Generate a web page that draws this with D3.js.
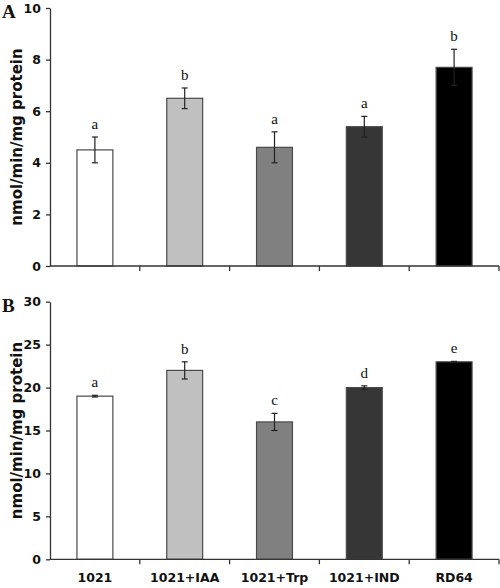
<!DOCTYPE html>
<html><head><meta charset="utf-8">
<script src="https://cdn.jsdelivr.net/npm/d3@7"></script>
<style>body{margin:0;background:#fff}svg{display:block}</style>
</head><body>
<svg id="c" width="500" height="588"></svg>
<script>
const categories = ["1021", "1021+IAA", "1021+Trp", "1021+IND", "RD64"];
const fills = ["#ffffff", "#c0c0c0", "#808080", "#363636", "#000000"];
const valuesA = [4.5, 6.5, 4.6, 5.4, 7.7];
const errorsA = [0.5, 0.4, 0.6, 0.4, 0.7];
const lettersA = ["a", "b", "a", "a", "b"];
const ticksA = [0, 2, 4, 6, 8, 10];
const valuesB = [19, 22, 16, 20, 23];
const errorsB = [0.1, 1.0, 1.0, 0.2, 0.05];
const lettersB = ["a", "b", "c", "d", "e"];
const ticksB = [0, 5, 10, 15, 20, 25, 30];
const yTitle = "nmol/min/mg protein";

const svg = d3.select("#c");
const x = d3.scaleBand().domain(categories).range([50, 499]).paddingInner(0.6).paddingOuter(0.3);

function panel(label, values, errors, letters, ticks, top, bottom, showCats) {
  const g = svg.append("g");
  const y = d3.scaleLinear().domain([0, ticks[ticks.length - 1]]).range([bottom, top]);
  // bars
  g.selectAll("rect.bar").data(values).join("rect")
    .attr("x", (d, i) => x(categories[i]))
    .attr("y", d => y(d))
    .attr("width", x.bandwidth())
    .attr("height", d => y(0) - y(d))
    .attr("fill", (d, i) => fills[i])
    .attr("stroke", "#4a4a4a").attr("stroke-width", 1.2);
  // error bars
  const eb = g.selectAll("g.eb").data(values).join("g")
    .attr("transform", (d, i) => `translate(${x(categories[i]) + x.bandwidth() / 2},0)`);
  eb.append("line").attr("y1", (d, i) => y(d - errors[i])).attr("y2", (d, i) => y(d + errors[i]))
    .attr("stroke", "#222").attr("stroke-width", 1.2);
  eb.append("line").attr("x1", -3).attr("x2", 3).attr("y1", (d, i) => y(d - errors[i])).attr("y2", (d, i) => y(d - errors[i]))
    .attr("stroke", "#222").attr("stroke-width", 1.2);
  eb.append("line").attr("x1", -3).attr("x2", 3).attr("y1", (d, i) => y(d + errors[i])).attr("y2", (d, i) => y(d + errors[i]))
    .attr("stroke", "#222").attr("stroke-width", 1.2);
  eb.append("text").attr("y", (d, i) => y(d + errors[i]) - 8)
    .attr("text-anchor", "middle")
    .style("font-family", "'Liberation Serif', 'DejaVu Serif', serif")
    .style("font-size", "15px").attr("fill", "#111")
    .text((d, i) => letters[i]);
  // y axis
  const ya = g.append("g").attr("transform", "translate(50,0)")
    .call(d3.axisLeft(y).tickValues(ticks).tickSize(4).tickSizeOuter(0).tickPadding(5));
  ya.select(".domain").attr("stroke", "#333").attr("stroke-width", 1.3);
  ya.selectAll(".tick line").attr("stroke", "#333").attr("stroke-width", 1.3);
  ya.selectAll(".tick text").style("font-family", "'DejaVu Sans', Verdana, sans-serif")
    .style("font-weight", "bold").style("font-size", "12.5px").attr("fill", "#111");
  // x axis line with boundary ticks
  g.append("line").attr("x1", 50).attr("x2", x.range()[1]).attr("y1", y(0)).attr("y2", y(0))
    .attr("stroke", "#333").attr("stroke-width", 1.3);
  g.selectAll("line.xt").data(categories).join("line").attr("class", "xt")
    .attr("x1", c => x(c) - x.step() * x.paddingInner() / 2 + x.step())
    .attr("x2", c => x(c) - x.step() * x.paddingInner() / 2 + x.step())
    .attr("y1", y(0)).attr("y2", y(0) + 5)
    .attr("stroke", "#333").attr("stroke-width", 1.3);
  if (showCats) {
    g.selectAll("text.cat").data(categories).join("text")
      .attr("x", c => x(c) + x.bandwidth() / 2).attr("y", y(0) + 23)
      .attr("text-anchor", "middle")
      .style("font-family", "'DejaVu Sans', Verdana, sans-serif")
      .style("font-weight", "bold").style("font-size", "12.5px").attr("fill", "#111")
      .text(c => c);
  }
  // y title
  g.append("text").attr("transform", `translate(22,${(top + bottom) / 2}) rotate(-90)`)
    .attr("text-anchor", "middle")
    .style("font-family", "'DejaVu Sans', Verdana, sans-serif")
    .style("font-weight", "bold").style("font-size", "15px").attr("fill", "#111")
    .text(yTitle);
  // panel label
  g.append("text").attr("x", 2).attr("y", top + 10)
    .style("font-family", "'Liberation Serif', 'DejaVu Serif', serif")
    .style("font-weight", "bold").style("font-size", "19px").attr("fill", "#111")
    .text(label);
}

panel("A", valuesA, errorsA, lettersA, ticksA, 8, 266, false);
panel("B", valuesB, errorsB, lettersB, ticksB, 301.7, 559.3, true);
</script>
</body></html>
